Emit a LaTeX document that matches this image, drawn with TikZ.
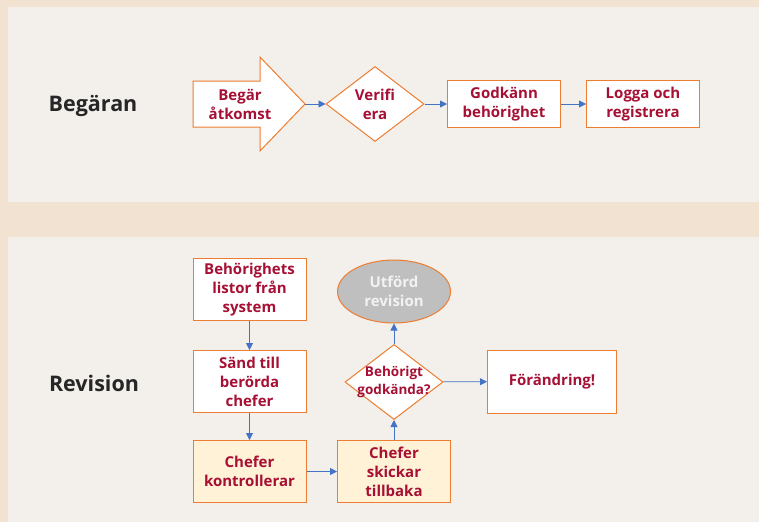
\documentclass[tikz,border=0pt]{standalone}
\usepackage{fontspec}
\setmainfont{Open Sans}
\usetikzlibrary{shapes.geometric,arrows.meta}
\definecolor{wood}{RGB}{241,226,209}
\definecolor{panel}{RGB}{243,239,235}
\definecolor{orng}{RGB}{237,125,49}
\definecolor{crim}{RGB}{166,16,52}
\definecolor{blu}{RGB}{68,114,196}
\definecolor{yel}{RGB}{255,242,214}
\definecolor{gry}{RGB}{191,191,191}
\tikzset{
  txt/.style={text=crim,font=\bfseries\fontsize{15}{19}\selectfont,align=center,inner sep=0pt},
  base/.style={draw=orng,line width=1pt,fill=white,txt},
  box/.style={base,rectangle,minimum width=113pt,minimum height=62pt},
  wbox/.style={box,minimum height=47pt},
  ybox/.style={box,fill=yel},
  dia/.style={draw=orng,line width=1pt,fill=white,diamond,inner sep=0pt,minimum width=98pt,minimum height=75pt},
  oval/.style={base,ellipse,fill=gry,text=white!95!black,minimum width=113pt,minimum height=63pt},
  conn/.style={blu,line width=0.8pt,-{Triangle[length=7pt,width=7pt]}},
  title/.style={font=\bfseries\fontsize{21.5}{25}\selectfont,text=black!85}
}
\begin{document}
\begin{tikzpicture}[x=1pt,y=-1pt]
\useasboundingbox (0,0) rectangle (759,522);
\fill[wood] (0,0) rectangle (759,522);
\fill[panel] (8,7) rectangle (759,202);
\fill[panel] (8,237) rectangle (759,522);
% titles
\node[title] (t1) at (93,106) {Begäran};
\node[title] (t2) at (94,383) {Revision};
% top row
\draw[draw=orng,line width=1pt,fill=white] (193,81) -- (260,81) -- (260,57) -- (305,104) -- (260,151) -- (260,127) -- (193,127) -- cycle;
\coordinate (atip) at (305,104);
\node[txt] (a1) at (240,104) {Begär\\åtkomst};
\node[dia] (v) at (375,104) {};
\node[txt] (vt) at (v.center) {Verifi\\era};
\node[wbox] (g) at (504,104) {Godkänn\\behörighet};
\node[wbox] (l) at (643,104) {Logga och\\registrera};
\draw[conn] (atip) -- (v.west);
\draw[conn] (v.east) -- (g.west);
\draw[conn] (g.east) -- (l.west);
% bottom
\node[box] (b1) at (249.5,289.5) {Behörighets\\listor från\\system};
\node[box] (b2) at (249.5,381.5) {Sänd till\\berörda\\chefer};
\node[ybox] (b3) at (249.5,471.5) {Chefer\\kontrollerar};
\node[ybox] (b4) at (394,471.5) {Chefer\\skickar\\tillbaka};
\node[dia] (d2) at (394,382) {};
\node[txt,font=\bfseries\fontsize{13.5}{17.5}\selectfont] (d2t) at (d2.center) {Behörigt\\godkända?};
\node[oval] (e) at (394,291.5) {Utförd\\revision};
\node[box,minimum width=129pt,minimum height=63pt] (f) at (552,381.5) {Förändring!};
\draw[conn] (b1) -- (b2);
\draw[conn] (b2) -- (b3);
\draw[conn] (b3) -- (b4);
\draw[conn] (b4) -- (d2);
\draw[conn] (d2) -- (e);
\draw[conn] (d2) -- (f);
\end{tikzpicture}
\end{document}
